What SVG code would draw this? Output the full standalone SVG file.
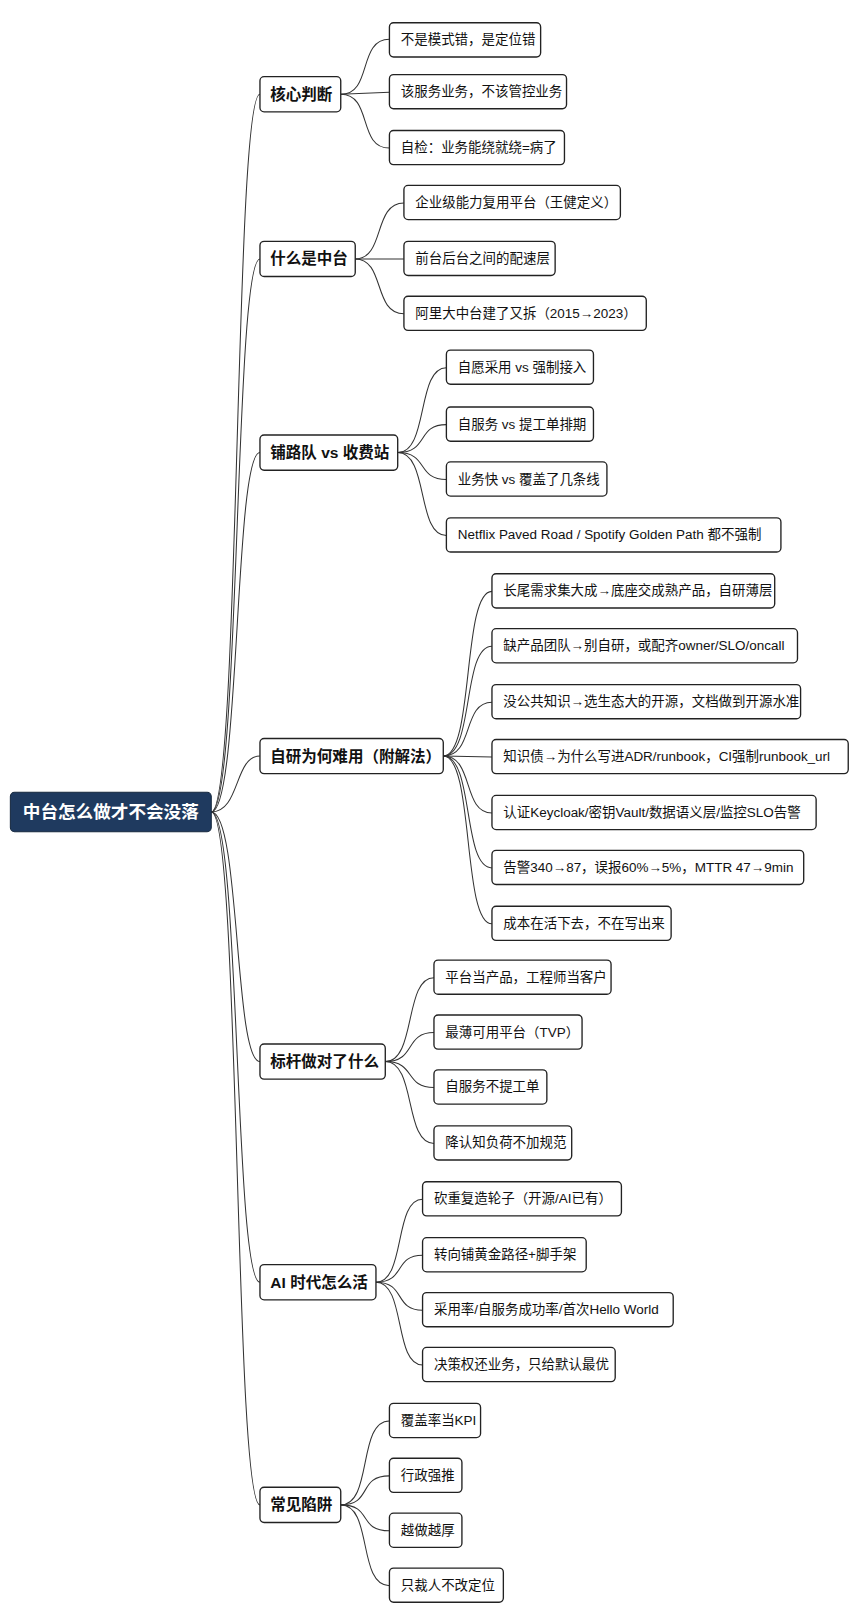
<svg xmlns="http://www.w3.org/2000/svg" width="867" height="1624" viewBox="0 0 867 1624">
<style>
text{font-family:"Liberation Sans","Noto Sans CJK SC",sans-serif;dominant-baseline:central}
.root rect{fill:#1f3a5f;stroke:#16293f;stroke-width:1}
.root text{fill:#fff;font-size:17px;font-weight:bold}
.l1 rect{fill:#fff;stroke:#222;stroke-width:1.3}
.l1 text{font-size:15px;font-weight:bold;fill:#111}
.lf rect{fill:#fff;stroke:#222;stroke-width:1.3}
.lf text{font-size:13px;fill:#111}
#edges path{fill:none;stroke:#333;stroke-width:1}
</style>
<rect width="867" height="1624" fill="#fff"/>
<g transform="scale(1.0357)">
<g id="edges">
<path d="M204,784 C232,784 226,91 251,91"/>
<path d="M204,784 C232,784 226,250 251,250"/>
<path d="M204,784 C232,784 226,437 251,437"/>
<path d="M204,784 C232,784 226,730 251,730"/>
<path d="M204,784 C232,784 226,1025 251,1025"/>
<path d="M204,784 C232,784 226,1238 251,1238"/>
<path d="M204,784 C232,784 226,1453 251,1453"/>
<path d="M329,91 C360,91 345,38 376,38"/><path d="M329,91 L376,89"/><path d="M329,91 C360,91 345,143 376,143"/>
<path d="M343,250 C372,250 360,196 390,196"/><path d="M343,250 L390,250"/><path d="M343,250 C372,250 360,303 390,303"/>
<path d="M384,437 C414,437 402,355 431,355"/><path d="M384,437 C414,437 402,410 431,410"/><path d="M384,437 C414,437 402,463 431,463"/><path d="M384,437 C414,437 402,517 431,517"/>
<path d="M428,730 C458,730 446,571 475,571"/><path d="M428,730 C458,730 446,624 475,624"/><path d="M428,730 C458,730 446,678 475,678"/><path d="M428,730 L475,731"/><path d="M428,730 C458,730 446,785 475,785"/><path d="M428,730 C458,730 446,838 475,838"/><path d="M428,730 C458,730 446,892 475,892"/>
<path d="M372,1025 C402,1025 390,944 419,944"/><path d="M372,1025 C402,1025 390,997 419,997"/><path d="M372,1025 C402,1025 390,1050 419,1050"/><path d="M372,1025 C402,1025 390,1104 419,1104"/>
<path d="M363,1238 C392,1238 380,1158 408,1158"/><path d="M363,1238 C392,1238 380,1212 408,1212"/><path d="M363,1238 C392,1238 380,1265 408,1265"/><path d="M363,1238 C392,1238 380,1318 408,1318"/>
<path d="M329,1453 C360,1453 345,1372 376,1372"/><path d="M329,1453 C360,1453 345,1425 376,1425"/><path d="M329,1453 C360,1453 345,1478 376,1478"/><path d="M329,1453 C360,1453 345,1531 376,1531"/>
</g>
<g id="root" class="root"><rect x="10" y="765" width="194" height="38" rx="4"/><text x="107" y="784" text-anchor="middle">中台怎么做才不会没落</text></g>
<g id="n1" class="l1"><rect x="251" y="74" width="78" height="34" rx="4"/><text x="261" y="91">核心判断</text></g>
<g id="n2" class="l1"><rect x="251" y="233" width="92" height="34" rx="4"/><text x="261" y="250">什么是中台</text></g>
<g id="n3" class="l1"><rect x="251" y="420" width="133" height="34" rx="4"/><text x="261" y="437">铺路队 vs 收费站</text></g>
<g id="n4" class="l1"><rect x="251" y="713" width="177" height="34" rx="4"/><text x="261" y="730">自研为何难用（附解法）</text></g>
<g id="n5" class="l1"><rect x="251" y="1008" width="121" height="34" rx="4"/><text x="261" y="1025">标杆做对了什么</text></g>
<g id="n6" class="l1"><rect x="251" y="1221" width="112" height="34" rx="4"/><text x="261" y="1238">AI 时代怎么活</text></g>
<g id="n7" class="l1"><rect x="251" y="1436" width="78" height="34" rx="4"/><text x="261" y="1453">常见陷阱</text></g>
<g id="n1a" class="lf"><rect x="376" y="22" width="146" height="33" rx="4"/><text x="387" y="38.5">不是模式错，是定位错</text></g>
<g id="n1b" class="lf"><rect x="376" y="72" width="171" height="33" rx="4"/><text x="387" y="88.5">该服务业务，不该管控业务</text></g>
<g id="n1c" class="lf"><rect x="376" y="126" width="169" height="33" rx="4"/><text x="387" y="142.5">自检：业务能绕就绕=病了</text></g>
<g id="n2a" class="lf"><rect x="390" y="179" width="209" height="33" rx="4"/><text x="401" y="195.5">企业级能力复用平台（王健定义）</text></g>
<g id="n2b" class="lf"><rect x="390" y="233" width="146" height="33" rx="4"/><text x="401" y="249.5">前台后台之间的配速层</text></g>
<g id="n2c" class="lf"><rect x="390" y="286" width="234" height="33" rx="4"/><text x="401" y="302.5">阿里大中台建了又拆（2015→2023）</text></g>
<g id="n3a" class="lf"><rect x="431" y="338" width="142" height="33" rx="4"/><text x="442" y="354.5">自愿采用 vs 强制接入</text></g>
<g id="n3b" class="lf"><rect x="431" y="393" width="142" height="33" rx="4"/><text x="442" y="409.5">自服务 vs 提工单排期</text></g>
<g id="n3c" class="lf"><rect x="431" y="446" width="155" height="33" rx="4"/><text x="442" y="462.5">业务快 vs 覆盖了几条线</text></g>
<g id="n3d" class="lf"><rect x="431" y="500" width="323" height="33" rx="4"/><text x="442" y="516.5">Netflix Paved Road / Spotify Golden Path 都不强制</text></g>
<g id="n4a" class="lf"><rect x="475" y="554" width="273" height="33" rx="4"/><text x="486" y="570.5">长尾需求集大成→底座交成熟产品，自研薄层</text></g>
<g id="n4b" class="lf"><rect x="475" y="607" width="295" height="33" rx="4"/><text x="486" y="623.5">缺产品团队→别自研，或配齐owner/SLO/oncall</text></g>
<g id="n4c" class="lf"><rect x="475" y="661" width="298" height="33" rx="4"/><text x="486" y="677.5">没公共知识→选生态大的开源，文档做到开源水准</text></g>
<g id="n4d" class="lf"><rect x="475" y="714" width="344" height="33" rx="4"/><text x="486" y="730.5">知识债→为什么写进ADR/runbook，CI强制runbook_url</text></g>
<g id="n4e" class="lf"><rect x="475" y="768" width="313" height="33" rx="4"/><text x="486" y="784.5">认证Keycloak/密钥Vault/数据语义层/监控SLO告警</text></g>
<g id="n4f" class="lf"><rect x="475" y="821" width="301" height="33" rx="4"/><text x="486" y="837.5">告警340→87，误报60%→5%，MTTR 47→9min</text></g>
<g id="n4g" class="lf"><rect x="475" y="875" width="173" height="33" rx="4"/><text x="486" y="891.5">成本在活下去，不在写出来</text></g>
<g id="n5a" class="lf"><rect x="419" y="927" width="171" height="33" rx="4"/><text x="430" y="943.5">平台当产品，工程师当客户</text></g>
<g id="n5b" class="lf"><rect x="419" y="980" width="143" height="33" rx="4"/><text x="430" y="996.5">最薄可用平台（TVP）</text></g>
<g id="n5c" class="lf"><rect x="419" y="1033" width="109" height="33" rx="4"/><text x="430" y="1049.5">自服务不提工单</text></g>
<g id="n5d" class="lf"><rect x="419" y="1087" width="133" height="33" rx="4"/><text x="430" y="1103.5">降认知负荷不加规范</text></g>
<g id="n6a" class="lf"><rect x="408" y="1141" width="192" height="33" rx="4"/><text x="419" y="1157.5">砍重复造轮子（开源/AI已有）</text></g>
<g id="n6b" class="lf"><rect x="408" y="1195" width="158" height="33" rx="4"/><text x="419" y="1211.5">转向铺黄金路径+脚手架</text></g>
<g id="n6c" class="lf"><rect x="408" y="1248" width="242" height="33" rx="4"/><text x="419" y="1264.5">采用率/自服务成功率/首次Hello World</text></g>
<g id="n6d" class="lf"><rect x="408" y="1301" width="186" height="33" rx="4"/><text x="419" y="1317.5">决策权还业务，只给默认最优</text></g>
<g id="n7a" class="lf"><rect x="376" y="1355" width="88" height="33" rx="4"/><text x="387" y="1371.5">覆盖率当KPI</text></g>
<g id="n7b" class="lf"><rect x="376" y="1408" width="70" height="33" rx="4"/><text x="387" y="1424.5">行政强推</text></g>
<g id="n7c" class="lf"><rect x="376" y="1461" width="70" height="33" rx="4"/><text x="387" y="1477.5">越做越厚</text></g>
<g id="n7d" class="lf"><rect x="376" y="1514" width="110" height="33" rx="4"/><text x="387" y="1530.5">只裁人不改定位</text></g>
</g>
</svg>
